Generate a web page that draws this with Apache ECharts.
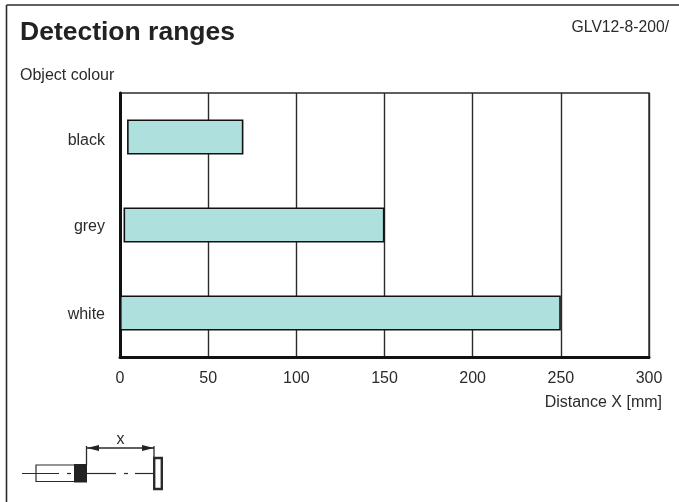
<!DOCTYPE html>
<html><head><meta charset="utf-8">
<style>html,body{margin:0;padding:0;background:#fff}#c{width:679px;height:502px}</style>
<script src="https://cdn.jsdelivr.net/npm/echarts@6/dist/echarts.min.js"></script>
</head><body><div id="c"></div>
<script>
const categories = ['white','grey','black'];
const rangeStart = [0,2,4];
const rangeEnd = [250,150,70];
const xTicks = [0,50,100,150,200,250,300];
const titleText = 'Detection ranges';
const modelText = 'GLV12-8-200/';
const yName = 'Object colour';
const xName = 'Distance X [mm]';
const ink = '#2b2b2b';
const font = '"Liberation Sans",Arial,sans-serif';
const fs = 16;
const chart = echarts.init(document.getElementById('c'),null,{renderer:'canvas'});
const L = (x1,y1,x2,y2,w,c)=>({type:'line',shape:{x1,y1,x2,y2},style:{stroke:c||ink,lineWidth:w||1.3},silent:true});
const labelBase = {fontFamily:font,fontSize:fs,color:ink};
chart.setOption({
  animation:false,
  backgroundColor:'#fff',
  textStyle:{fontFamily:font,color:ink},
  title:[
    {text:titleText,left:20,top:19,padding:0,textStyle:{fontFamily:font,fontSize:26.5,fontWeight:'bold',color:'#222'}},
    {text:modelText,right:10,top:20,padding:0,textStyle:{fontFamily:font,fontSize:fs-0.3,fontWeight:'normal',color:ink}}
  ],
  grid:{left:120,right:30,top:93,bottom:145,show:true,borderColor:ink,borderWidth:1.4,backgroundColor:'transparent'},
  xAxis:{type:'value',min:0,max:300,interval:50,
    name:xName,nameLocation:'end',nameGap:-16,
    nameTextStyle:{fontFamily:font,fontSize:fs,color:ink,align:'right',verticalAlign:'top',padding:[38,-29,0,0]},
    axisLine:{show:true,lineStyle:{color:'#111',width:3}},axisTick:{show:false},
    axisLabel:{margin:14,fontFamily:font,fontSize:fs,color:ink,formatter:v=>xTicks.includes(v)?String(v):''},
    splitLine:{show:true,lineStyle:{color:ink,width:1.4}}},
  yAxis:{type:'category',data:categories,
    name:yName,nameLocation:'end',nameGap:9,
    nameTextStyle:{fontFamily:font,fontSize:fs,color:ink,align:'left',padding:[0,0,0,-100]},
    axisLine:{show:true,onZero:false,lineStyle:{color:'#111',width:3}},axisTick:{show:false},splitLine:{show:false},
    axisLabel:{margin:15,formatter:v=>v==='black'?'{k|'+v+'}':'{o|'+v+'}',
      rich:{k:{...labelBase,padding:[8,0,0,0]},o:{...labelBase,padding:[4,0,0,0]}}}},
  series:[
    {type:'bar',stack:'r',data:rangeStart,barWidth:35,silent:true,itemStyle:{color:'transparent',borderWidth:0}},
    {type:'bar',stack:'r',data:rangeEnd.map((v,i)=>v-rangeStart[i]),barWidth:35,silent:true,
     itemStyle:{color:'#aee0de',borderColor:'#111',borderWidth:1.6}}
  ],
  graphic:{elements:[
    L(6.5,5,6.5,502,1.6),L(6.5,5,679,5,1.6),
    {type:'rect',shape:{x:36,y:465,width:39,height:16.5},style:{fill:'#fff',stroke:ink,lineWidth:1.2},silent:true},
    L(22,473.5,59,473.5,1.2),L(67,473.5,71,473.5,1.2),
    {type:'rect',shape:{x:74,y:464,width:13,height:18.5},style:{fill:'#222'},silent:true},
    L(87,473.5,116,473.5,1.2),L(124,473.5,128,473.5,1.2),L(135,473.5,154,473.5,1.2),
    {type:'rect',shape:{x:154.2,y:458,width:7.6,height:31},style:{fill:'#fff',stroke:ink,lineWidth:2.4},silent:true},
    L(86.5,446,86.5,465,1.3),L(154,446,154,457,1.3),L(87,448,154,448,1.3),
    {type:'polygon',shape:{points:[[87,448],[99,445],[99,451]]},style:{fill:'#222'},silent:true},
    {type:'polygon',shape:{points:[[154,448],[142,445],[142,451]]},style:{fill:'#222'},silent:true},
    {type:'text',x:120.5,y:440,style:{text:'x',font:'16px '+font,fill:ink,textAlign:'center',textVerticalAlign:'middle'},silent:true}
  ]}
});
</script></body></html>
